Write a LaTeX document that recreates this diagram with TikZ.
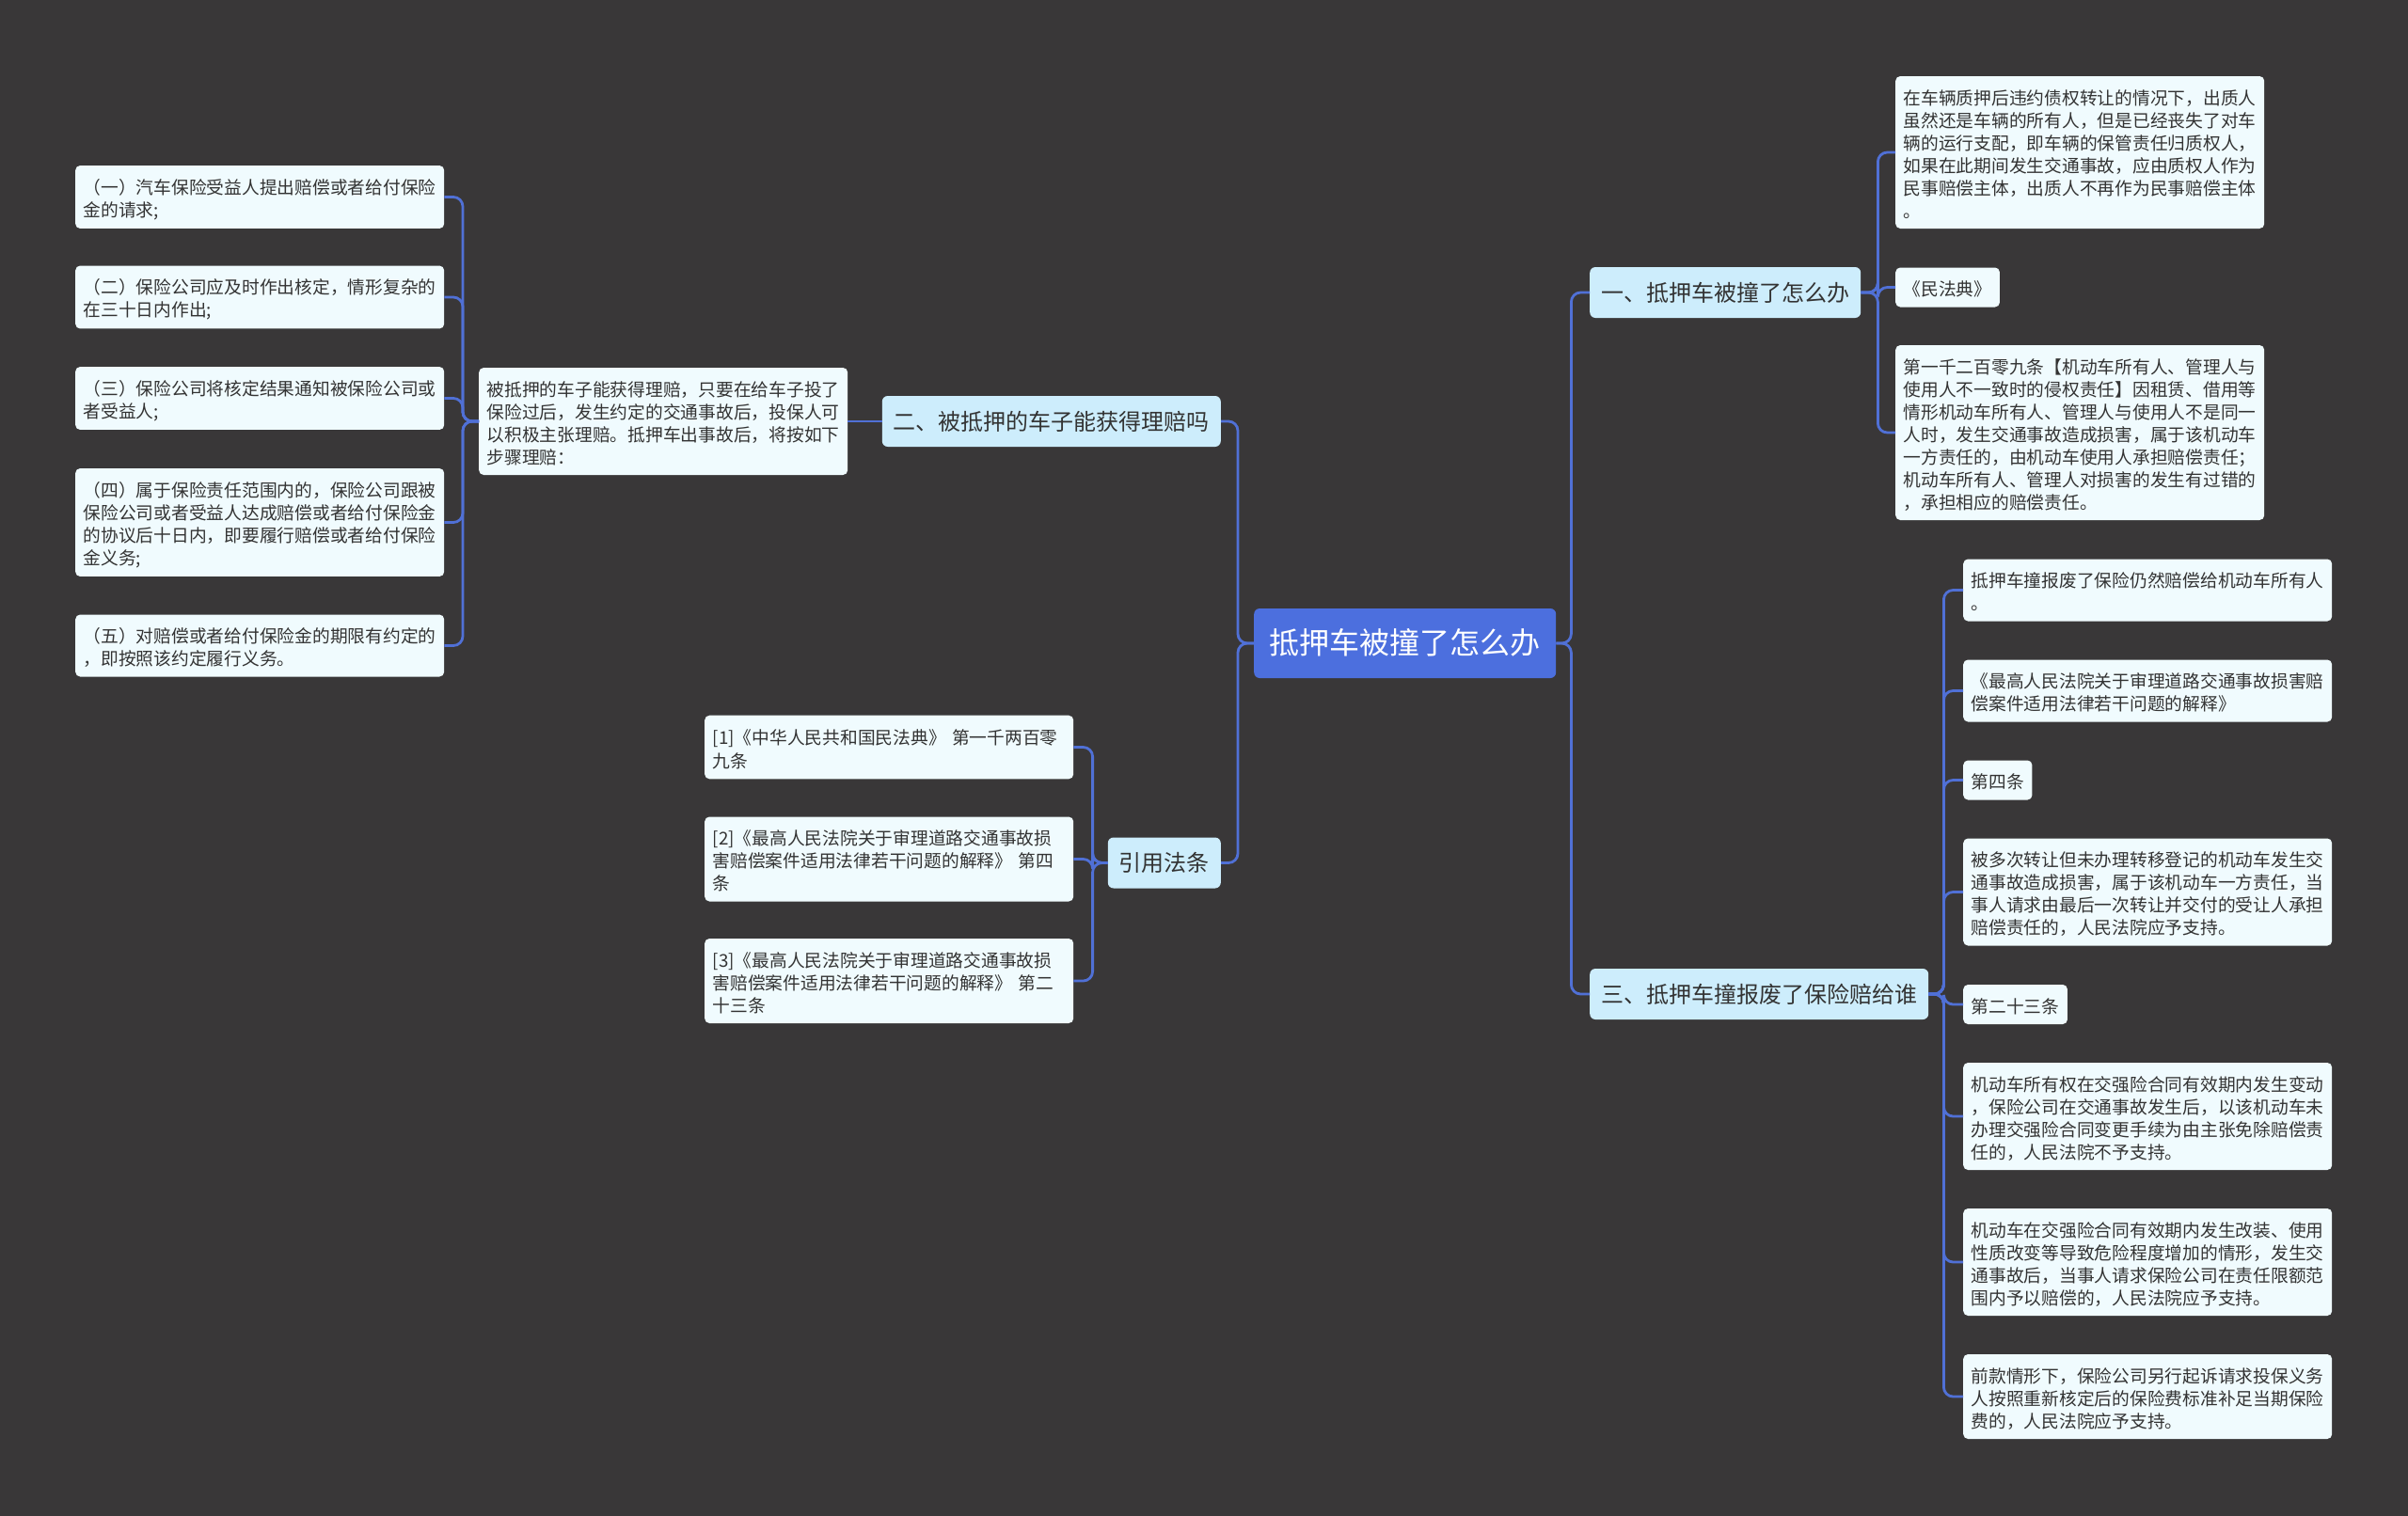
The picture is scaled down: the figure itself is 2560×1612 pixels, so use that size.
\documentclass[tikz,border=0pt]{standalone}
\usepackage{fontspec}
\setmainfont{Noto Sans CJK SC}
\definecolor{mapbg}{RGB}{57,55,56}
\definecolor{rootblue}{RGB}{76,111,222}
\definecolor{branchsky}{RGB}{205,237,252}
\definecolor{leafwhite}{RGB}{240,251,254}
\definecolor{linkblue}{RGB}{80,112,214}
\definecolor{inkgray}{RGB}{51,51,51}
\newcommand{\rootstrut}{\rule[-8.7pt]{0pt}{40pt}}
\newcommand{\branchstrut}{\rule[-5.7pt]{0pt}{30pt}}
\newcommand{\leafstrut}{\rule[-2.6pt]{0pt}{24pt}}

\begin{document}
\begin{tikzpicture}[x=1pt, y=-1pt,
    rootbox/.style={fill=rootblue, text=white, rounded corners=6pt, inner xsep=16.5pt, inner ysep=17pt,
        font=\fontsize{32}{40}\selectfont, execute at begin node=\rootstrut},
    branchbox/.style={fill=branchsky, text=inkgray, rounded corners=6pt, inner xsep=12pt, inner ysep=12pt,
        font=\fontsize{24}{30}\selectfont, execute at begin node=\branchstrut},
    leafbox/.style={fill=leafwhite, text=inkgray, rounded corners=5pt, inner xsep=8.5pt, inner ysep=9pt, align=left,
        font=\fontsize{18.75}{24}\selectfont, execute at begin node=\leafstrut, execute at end node=\leafstrut, anchor=west},
    longleaf/.style={leafbox, text width=375pt},
    link/.style={draw=linkblue, line width=2.8pt, rounded corners=10pt}]
    % Canvas
    \fill[mapbg] (0,0) rectangle (2560,1612);

    % Central topic
    \node[rootbox, anchor=west] (root) at (1333,684) {抵押车被撞了怎么办};

    % Left: branch two
    \node[branchbox, anchor=east] (b2) at (1298,448) {二、被抵押的车子能获得理赔吗};
    \node[longleaf] (m2) at (509,448) {被抵押的车子能获得理赔，只要在给车子投了\\保险过后，发生约定的交通事故后，投保人可\\以积极主张理赔。抵押车出事故后，将按如下\\步骤理赔：};
    \node[longleaf] (l1) at (80,209.5) {（一）汽车保险受益人提出赔偿或者给付保险\\金的请求;};
    \node[longleaf] (l2) at (80,316) {（二）保险公司应及时作出核定，情形复杂的\\在三十日内作出;};
    \node[longleaf] (l3) at (80,423.5) {（三）保险公司将核定结果通知被保险公司或\\者受益人;};
    \node[longleaf] (l4) at (80,555.5) {（四）属于保险责任范围内的，保险公司跟被\\保险公司或者受益人达成赔偿或者给付保险金\\的协议后十日内，即要履行赔偿或者给付保险\\金义务;};
    \node[longleaf] (l5) at (80,686.5) {（五）对赔偿或者给付保险金的期限有约定的\\，即按照该约定履行义务。};

    % Left: cited laws
    \node[branchbox, anchor=east] (cite) at (1298,917.5) {引用法条};
    \node[longleaf] (c1) at (749,794.5) {[1]《中华人民共和国民法典》~第一千两百零\\九条};
    \node[longleaf] (c2) at (749,913.5) {[2]《最高人民法院关于审理道路交通事故损\\害赔偿案件适用法律若干问题的解释》~第四\\条};
    \node[longleaf] (c3) at (749,1043) {[3]《最高人民法院关于审理道路交通事故损\\害赔偿案件适用法律若干问题的解释》~第二\\十三条};

    % Right: branch one
    \node[branchbox, anchor=west] (b1) at (1690,311) {一、抵押车被撞了怎么办};
    \node[longleaf] (r1) at (2015,162) {在车辆质押后违约债权转让的情况下，出质人\\虽然还是车辆的所有人，但是已经丧失了对车\\辆的运行支配，即车辆的保管责任归质权人，\\如果在此期间发生交通事故，应由质权人作为\\民事赔偿主体，出质人不再作为民事赔偿主体\\。};
    \node[leafbox] (r2) at (2015,305.5) {《民法典》};
    \node[longleaf] (r3) at (2015,460) {第一千二百零九条【机动车所有人、管理人与\\使用人不一致时的侵权责任】因租赁、借用等\\情形机动车所有人、管理人与使用人不是同一\\人时，发生交通事故造成损害，属于该机动车\\一方责任的，由机动车使用人承担赔偿责任；\\机动车所有人、管理人对损害的发生有过错的\\，承担相应的赔偿责任。};

    % Right: branch three
    \node[branchbox, anchor=west] (b3) at (1690,1057) {三、抵押车撞报废了保险赔给谁};
    \node[longleaf] (s1) at (2087,627.5) {抵押车撞报废了保险仍然赔偿给机动车所有人\\。};
    \node[longleaf] (s2) at (2087,734.5) {《最高人民法院关于审理道路交通事故损害赔\\偿案件适用法律若干问题的解释》};
    \node[leafbox] (s3) at (2087,829.5) {第四条};
    \node[longleaf] (s4) at (2087,948.5) {被多次转让但未办理转移登记的机动车发生交\\通事故造成损害，属于该机动车一方责任，当\\事人请求由最后一次转让并交付的受让人承担\\赔偿责任的，人民法院应予支持。};
    \node[leafbox] (s5) at (2087,1068) {第二十三条};
    \node[longleaf] (s6) at (2087,1187) {机动车所有权在交强险合同有效期内发生变动\\，保险公司在交通事故发生后，以该机动车未\\办理交强险合同变更手续为由主张免除赔偿责\\任的，人民法院不予支持。};
    \node[longleaf] (s7) at (2087,1342) {机动车在交强险合同有效期内发生改装、使用\\性质改变等导致危险程度增加的情形，发生交\\通事故后，当事人请求保险公司在责任限额范\\围内予以赔偿的，人民法院应予支持。};
    \node[longleaf] (s8) at (2087,1485) {前款情形下，保险公司另行起诉请求投保义务\\人按照重新核定后的保险费标准补足当期保险\\费的，人民法院应予支持。};

    % Links
    \draw[link] (root.west) -- ++(-17,0) |- (b2.east);
    \draw[link] (root.west) -- ++(-17,0) |- (cite.east);
    \draw[link] (root.east) -- ++(16,0) |- (b1.west);
    \draw[link] (root.east) -- ++(16,0) |- (b3.west);
    \draw[link] (b2.west) -- (m2.east);
    \foreach \n in {l1,l2,l3,l4,l5}
        \draw[link] (m2.west) -- ++(-17,0) |- (\n.east);
    \foreach \n in {c1,c2,c3}
        \draw[link] (cite.west) -- ++(-16,0) |- (\n.east);
    \foreach \n in {r1,r2,r3}
        \draw[link] (b1.east) -- ++(18,0) |- (\n.west);
    \foreach \n in {s1,s2,s3,s4,s5,s6,s7,s8}
        \draw[link] (b3.east) -- ++(16,0) |- (\n.west);
\end{tikzpicture}
\end{document}
